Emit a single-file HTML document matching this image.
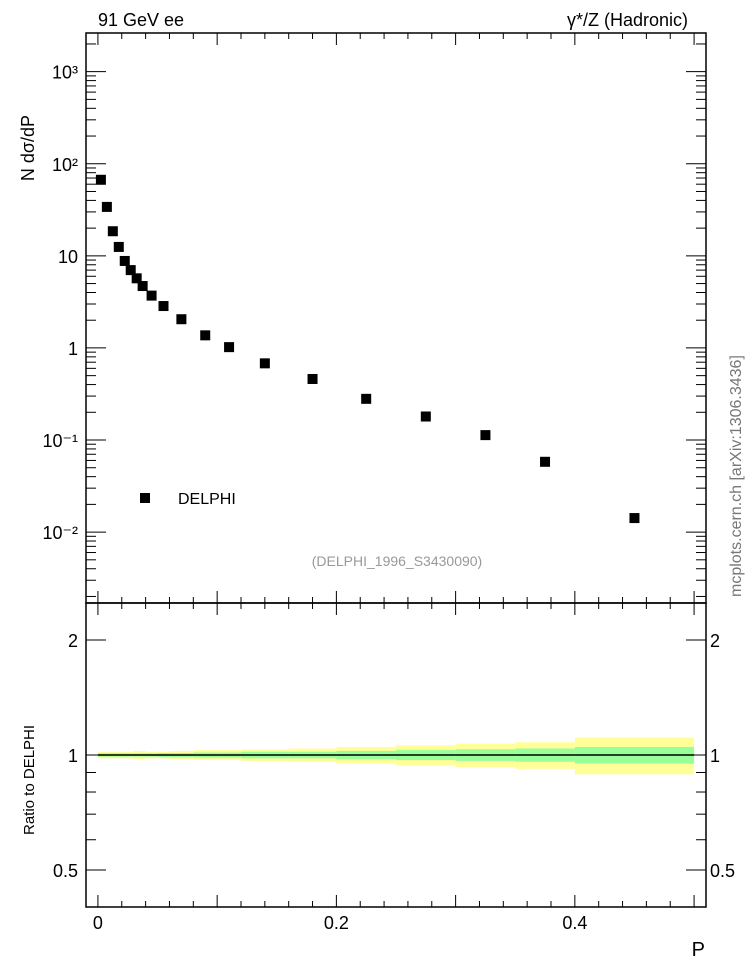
<!DOCTYPE html>
<html><head><meta charset="utf-8"><style>
body{margin:0;background:#fff;}
svg{display:block;font-family:"Liberation Sans",sans-serif;}
</style></head><body>
<svg id="c" width="746" height="972" xmlns="http://www.w3.org/2000/svg"></svg>
<script>
const pVals=[0.0025,0.0075,0.0125,0.0175,0.0225,0.0275,0.0325,0.0375,0.045,0.055,0.07,0.09,0.11,0.14,0.18,0.225,0.275,0.325,0.375,0.45];
const yVals=[67,34,18.5,12.5,8.8,7.0,5.7,4.7,3.7,2.85,2.05,1.37,1.02,0.68,0.46,0.28,0.18,0.113,0.058,0.0142];
const binEdges=[0,0.01,0.02,0.03,0.04,0.05,0.06,0.08,0.1,0.12,0.16,0.2,0.25,0.3,0.35,0.4,0.5];
const greenErr=[0.01,0.01,0.01,0.01,0.01,0.012,0.012,0.015,0.015,0.02,0.02,0.025,0.03,0.035,0.04,0.05];
const yellowErr=[0.02,0.02,0.02,0.025,0.02,0.02,0.025,0.03,0.03,0.035,0.04,0.05,0.06,0.07,0.08,0.11];
const xTickLabels=["0","0.2","0.4"];
const yTickLabels=["10⁻²","10⁻¹","1","10","10²","10³"];
const rTickLabels=["0.5","1","2"];

const NS="http://www.w3.org/2000/svg";
const svg=document.getElementById('c');
const L=86,R=706,T=33,MB=603,RB=907;
const X=p=>L+(p+0.01)/0.52*(R-L);
const Y=v=>MB-(Math.log10(v)+2.77)/(3.42+2.77)*(MB-T);
const RY=v=>RB-(Math.log10(v)-Math.log10(0.4))/(Math.log10(2.5)-Math.log10(0.4))*(RB-MB);
function mk(tag,attrs,parent){const e=document.createElementNS(NS,tag);for(const k in attrs)e.setAttribute(k,attrs[k]);(parent||svg).appendChild(e);return e;}
function txt(s,x,y,attrs){const e=mk('text',Object.assign({x:x,y:y,'font-size':18,fill:'#000'},attrs||{}));e.textContent=s;return e;}

binEdges.slice(0,-1).forEach((e0,i)=>{
  const e1=binEdges[i+1];
  const y=mk('rect',{x:X(e0),y:RY(1+yellowErr[i]),width:X(e1)-X(e0),height:RY(1-yellowErr[i])-RY(1+yellowErr[i]),fill:'#ffff99'});
  
  
});
binEdges.slice(0,-1).forEach((e0,i)=>{
  const e1=binEdges[i+1];
  const g=mk('rect',{x:X(e0),y:RY(1+greenErr[i]),width:X(e1)-X(e0),height:RY(1-greenErr[i])-RY(1+greenErr[i]),fill:'#99ff99'});
  
  
});
const rl=mk('line',{x1:X(0),x2:X(0.5),y1:RY(1),y2:RY(1),stroke:'#000','stroke-width':1.5});



const f1=mk('rect',{x:L,y:T,width:R-L,height:MB-T,fill:'none',stroke:'#000','stroke-width':1.5});


const f2=mk('rect',{x:L,y:MB,width:R-L,height:RB-MB,fill:'none',stroke:'#000','stroke-width':1.5});



for(let k=0;k<=25;k++){
  const p=k*0.02;const major=k%5===0;const len=major?12:6;const x=X(p);
  [[MB,-1],[T,1],[RB,-1],[MB,1]].forEach(([yy,d])=>{mk('line',{x1:x,x2:x,y1:yy,y2:yy+d*len,stroke:'#000','stroke-width':1});});
}
xTickLabels.forEach((s,i)=>{const t=txt(s,X(i*0.2),929,{'text-anchor':'middle'});
  
  });
for(let d=-3;d<=3;d++){for(let m=1;m<10;m++){const v=m*Math.pow(10,d);if(v<Math.pow(10,-2.77)||v>Math.pow(10,3.42))continue;
  const y=Y(v);const len=m===1?20:10;
  mk('line',{x1:L,x2:L+len,y1:y,y2:y,stroke:'#000'});mk('line',{x1:R,x2:R-len,y1:y,y2:y,stroke:'#000'});}}
yTickLabels.forEach((s,i)=>{const v=Math.pow(10,i-2);const t=txt(s,78,Y(v)+7,{'text-anchor':'end'});
  
  });
[0.5,0.6,0.7,0.8,0.9,1,2].forEach(v=>{const y=RY(v);const len=(v===0.5||v===1||v===2)?20:10;
  mk('line',{x1:L,x2:L+len,y1:y,y2:y,stroke:'#000'});mk('line',{x1:R,x2:R-len,y1:y,y2:y,stroke:'#000'});});
[0.5,1,2].forEach((v,i)=>{
  const a=txt(rTickLabels[i],78,RY(v)+7,{'text-anchor':'end'});
  
  
  const b=txt(rTickLabels[i],710,RY(v)+7);
  
  });

pVals.forEach((p,i)=>{const r=mk('rect',{x:X(p)-5,y:Y(yVals[i])-5,width:10,height:10,fill:'#000'});
  
  });

const t1=txt('91 GeV ee',98,26);
const t2=txt('γ*/Z (Hadronic)',688,26,{'text-anchor':'end'});
const t3=txt('N dσ/dP',34,115,{'text-anchor':'end',transform:'rotate(-90 34 115)'});
const t4=txt('Ratio to DELPHI',34,835,{'font-size':15,transform:'rotate(-90 34 835)'});
const t5=txt('P',705,956,{'font-size':20,'text-anchor':'end'});
const t6=txt('mcplots.cern.ch [arXiv:1306.3436]',741,597,{'font-size':16,fill:'#777',transform:'rotate(-90 741 597)'});
const t7=txt('(DELPHI_1996_S3430090)',397,566,{'font-size':14,fill:'#999','text-anchor':'middle'});
const lm=mk('rect',{x:140,y:493,width:10,height:10,fill:'#000'});
const lt=txt('DELPHI',178,504,{'font-size':16});
</script>
</body></html>
